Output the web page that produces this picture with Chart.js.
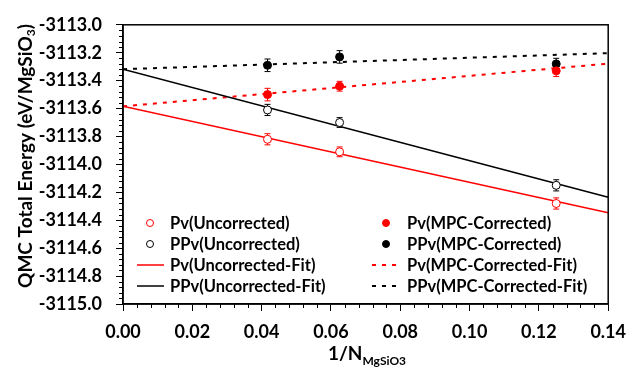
<!DOCTYPE html>
<html>
<head>
<meta charset="utf-8">
<script src="https://cdn.jsdelivr.net/npm/chart.js@4.4.1/dist/chart.umd.min.js"></script>
<style>
  html, body { margin: 0; padding: 0; background: #fff; }
  #wrap { width: 636px; height: 369px; }
</style>
</head>
<body>
<div id="wrap"><canvas id="energy-chart"></canvas></div>
<script>
// 1/N for the three supercells
let invN = [0.0417, 0.0625, 0.125];

// QMC energies (eV/MgSiO3)
let pvUncorrected  = [-3113.82, -3113.91, -3114.28];
let ppvUncorrected = [-3113.61, -3113.70, -3114.15];
let pvCorrected    = [-3113.50, -3113.44, -3113.33];
let ppvCorrected   = [-3113.29, -3113.23, -3113.28];

// error bars
let pvUncErr  = [0.04, 0.035, 0.04];
let ppvUncErr = [0.04, 0.035, 0.04];
let pvCorErr  = [0.045, 0.035, 0.04];
let ppvCorErr = [0.045, 0.045, 0.04];

// fit lines, evaluated at both ends of the axis
let fitX      = [0, 0.14];
let pvUncFit  = [-3113.584, -3114.346];
let ppvUncFit = [-3113.318, -3114.235];
let pvCorFit  = [-3113.584, -3113.278];
let ppvCorFit = [-3113.318, -3113.203];

let xTicks = [0, 0.02, 0.04, 0.06, 0.08, 0.10, 0.12, 0.14];
let yTickLabels = ['-3115.0','-3114.8','-3114.6','-3114.4','-3114.2','-3114.0',
  '-3113.8','-3113.6','-3113.4','-3113.2','-3113.0'];

const RED = '#ff0000';
const BLACK = '#000000';
const FONT = 'Lato, "Open Sans", sans-serif';

function pts(xs, ys) {
  return xs.map((x, i) => ({x: x, y: ys[i]}));
}

let energyData = {
  datasets: [
    {label: 'Pv(Uncorrected)', data: pts(invN, pvUncorrected), errors: pvUncErr,
     showLine: false, pointRadius: 4, pointBorderWidth: 1, borderColor: RED, backgroundColor: '#fff'},
    {label: 'PPv(Uncorrected)', data: pts(invN, ppvUncorrected), errors: ppvUncErr,
     showLine: false, pointRadius: 4, pointBorderWidth: 1, borderColor: BLACK, backgroundColor: '#fff'},
    {label: 'Pv(MPC-Corrected)', data: pts(invN, pvCorrected), errors: pvCorErr,
     showLine: false, pointRadius: 4, pointBorderWidth: 1, borderColor: RED, backgroundColor: RED},
    {label: 'PPv(MPC-Corrected)', data: pts(invN, ppvCorrected), errors: ppvCorErr,
     showLine: false, pointRadius: 4, pointBorderWidth: 1, borderColor: BLACK, backgroundColor: BLACK},
    {label: 'Pv(Uncorrected-Fit)', data: pts(fitX, pvUncFit), showLine: true,
     pointRadius: 0, borderColor: RED, borderWidth: 1.5},
    {label: 'PPv(Uncorrected-Fit)', data: pts(fitX, ppvUncFit), showLine: true,
     pointRadius: 0, borderColor: BLACK, borderWidth: 1.5},
    {label: 'Pv(MPC-Corrected-Fit)', data: pts(fitX, pvCorFit), showLine: true,
     pointRadius: 0, borderColor: RED, borderWidth: 2, borderDash: [4, 6]},
    {label: 'PPv(MPC-Corrected-Fit)', data: pts(fitX, ppvCorFit), showLine: true,
     pointRadius: 0, borderColor: BLACK, borderWidth: 2, borderDash: [4, 6]}
  ]
};

// legend: two columns of four, [dataset index, column, row]
let legendLayout = [[0,0,0],[1,0,1],[4,0,2],[5,0,3],[2,1,0],[3,1,1],[6,1,2],[7,1,3]];

const extras = {
  id: 'extras',
  beforeDatasetsDraw(chart) {
    const ctx = chart.ctx, ys = chart.scales.y;
    chart.data.datasets.forEach((ds, i) => {
      if (!ds.errors) return;
      const meta = chart.getDatasetMeta(i);
      ctx.save();
      ctx.strokeStyle = ds.borderColor;
      ctx.lineWidth = 1;
      meta.data.forEach((el, j) => {
        const v = ds.data[j].y, e = ds.errors[j];
        const top = ys.getPixelForValue(v + e), bot = ys.getPixelForValue(v - e);
        ctx.beginPath();
        ctx.moveTo(el.x, top); ctx.lineTo(el.x, bot);
        ctx.moveTo(el.x - 3, top); ctx.lineTo(el.x + 3, top);
        ctx.moveTo(el.x - 3, bot); ctx.lineTo(el.x + 3, bot);
        ctx.stroke();
      });
      ctx.restore();
    });
  },
  afterDraw(chart) {
    const ctx = chart.ctx, a = chart.chartArea;
    const xs = chart.scales.x, ys = chart.scales.y;
    ctx.save();
    // frame
    ctx.strokeStyle = '#000';
    ctx.lineWidth = 1.5;
    ctx.strokeRect(a.left, a.top, a.right - a.left, a.bottom - a.top);
    // minor ticks
    ctx.lineWidth = 1;
    ctx.beginPath();
    for (let i = 0; i <= 50; i++) {
      if (i % 5 === 0) continue;
      const py = Math.round(ys.getPixelForValue(-3115 + i * 0.04)) + 0.5;
      ctx.moveTo(a.left - 4, py); ctx.lineTo(a.left, py);
    }
    for (let i = 0; i <= 35; i++) {
      if (i % 5 === 0) continue;
      const px = Math.round(xs.getPixelForValue(i * 0.004)) + 0.5;
      ctx.moveTo(px, a.bottom); ctx.lineTo(px, a.bottom + 4);
    }
    ctx.stroke();

    // legend
    ctx.font = 'bold 16.5px ' + FONT;
    ctx.textBaseline = 'middle';
    ctx.textAlign = 'left';
    const colMark = [150, 386], colLine = [[137, 164], [372, 399]], colText = [170, 407];
    legendLayout.forEach(([di, col, row]) => {
      const ds = chart.data.datasets[di];
      const y = 223 + row * 21;
      if (ds.showLine) {
        ctx.save();
        ctx.strokeStyle = ds.borderColor;
        ctx.lineWidth = ds.borderWidth;
        ctx.setLineDash(ds.borderDash || []);
        ctx.beginPath();
        ctx.moveTo(colLine[col][0], y); ctx.lineTo(colLine[col][1], y);
        ctx.stroke();
        ctx.restore();
      } else {
        ctx.beginPath();
        ctx.arc(colMark[col], y, 3.5, 0, Math.PI * 2);
        ctx.fillStyle = ds.backgroundColor;
        ctx.fill();
        ctx.strokeStyle = ds.borderColor;
        ctx.lineWidth = 1;
        ctx.stroke();
      }
      ctx.fillStyle = '#000';
      ctx.fillText(ds.label, colText[col], y + 1);
    });

    // y title with subscript
    ctx.save();
    ctx.translate(26, 156);
    ctx.rotate(-Math.PI / 2);
    const big = 'bold 19px ' + FONT, small = 'bold 12px ' + FONT;
    const t1 = 'QMC Total Energy (eV/MgSiO', t2 = '3', t3 = ')';
    ctx.font = big; const w1 = ctx.measureText(t1).width, w3 = ctx.measureText(t3).width;
    ctx.font = small; const w2 = ctx.measureText(t2).width;
    let x0 = -(w1 + w2 + w3) / 2;
    ctx.fillStyle = '#000';
    ctx.font = big; ctx.fillText(t1, x0, 0);
    ctx.font = small; ctx.fillText(t2, x0 + w1, 5);
    ctx.font = big; ctx.fillText(t3, x0 + w1 + w2, 0);
    ctx.restore();

    // x title with subscript
    const s1 = '1/N', s2 = 'MgSiO3';
    ctx.font = big; const v1 = ctx.measureText(s1).width;
    ctx.font = small; const v2 = ctx.measureText(s2).width;
    let xx = 367 - (v1 + v2) / 2;
    ctx.fillStyle = '#000';
    ctx.font = big; ctx.fillText(s1, xx, 354);
    ctx.font = small; ctx.fillText(s2, xx + v1, 361);
    ctx.restore();
  }
};

let energyOptions = {
  responsive: true,
  maintainAspectRatio: false,
  animation: false,
  layout: {padding: {top: 15, right: 25, left: 0, bottom: 0}},
  scales: {
    x: {
      type: 'linear', min: 0, max: 0.14,
      afterFit: s => { s.height = 65; },
      afterBuildTicks: s => { s.ticks = xTicks.map(v => ({value: v})); },
      grid: {drawOnChartArea: false, tickLength: 7, color: '#000', tickWidth: 1},
      border: {color: '#000', width: 1.5},
      ticks: {padding: 10, color: '#000', font: {family: FONT, size: 18, weight: 'bold'},
        callback: v => v.toFixed(2)}
    },
    y: {
      type: 'linear', min: -3115, max: -3113,
      afterFit: s => { s.width = 123; },
      afterBuildTicks: s => { s.ticks = yTickLabels.map(t => ({value: parseFloat(t)})); },
      grid: {drawOnChartArea: false, tickLength: 7, color: '#000', tickWidth: 1},
      border: {color: '#000', width: 1.5},
      ticks: {padding: 14, color: '#000', font: {family: FONT, size: 18, weight: 'bold'},
        callback: v => v.toFixed(1)}
    }
  },
  plugins: {legend: {display: false}, tooltip: {enabled: false}}
};

let energyChart = new Chart(document.getElementById('energy-chart'), {
  type: 'scatter',
  data: energyData,
  options: energyOptions,
  plugins: [extras]
});
</script>
</body>
</html>
